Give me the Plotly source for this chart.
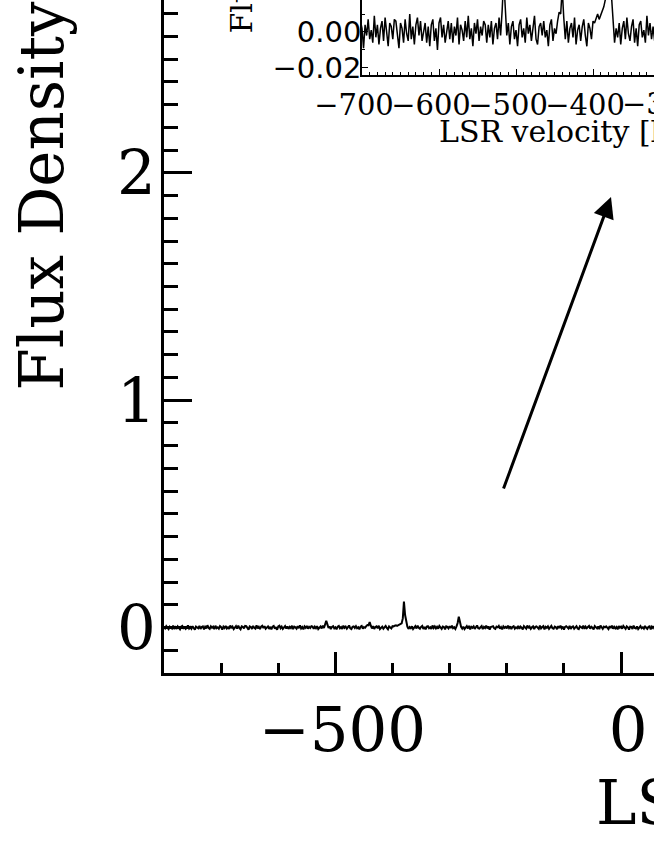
import plotly.graph_objects as go

W, H = 654, 846


def px(x):
    return x / W


def py(y):
    return 1 - y / H


# spectrum: first channel velocity and channel width (km/s)
velocity_start = -800.0
channel_width = 2.0

# flux per channel in mJy (noise + lines at -516, -440, -380, -284)
flux_mjy = [
    3, -4, 6, -2, -7, 4, 1, -5, 8, -3, 2, -6,
    5, -1, -8, 4, 7, -3, 0, -6, 3, 9, -4, 2,
    -5, 6, -2, -9, 4, 1, -3, 7, -6, 2, 5, -8,
    3, -4, 10, -2, -6, 5, -1, 4, -7, 8, -3, 1,
    -5, 6, 2, -9, 4, -2, 7, -4, 1, -6, 9, -3,
    4, -7, 2, 6, -5, 8, -2, -8, 5, 3, -4, 7,
    6, -3, -9, 5, 2, -6, 7, -1, -5, 10, -4, 3,
    -7, 4, 8, -2, 6, -5, 1, 5, -6, 3, -8, 4,
    7, -5, 2, -10, 5, 8, -3, 4, -6, 1, 6, -4,
    5, -6, 3, -2, 8, -7, 4, 1, -5, 6, -3, 9,
    -4, 2, -8, 5, -1, 7, -5, 3, -2, 6, 4, -6,
    4, -3, 6, -7, 2, 5, -4, 8, -2, 12, 30, 14,
    -2, 5, -7, 3, 6, -4, 1, -8, 4, 7, -3, 2,
    -6, 8, -1, 4, -5, 2, 9, -4, -7, 3, 5, -2,
    6, -3, 1, -8, 4, 7, -5, 2, -1, 6, 11, 10,
    24, 8, -4, 6, -6, 2, 5, -3, 8, -7, 1, 4,
    -5, 3, 7, -2, -8, 5, 2, -4, 6, 5, 8, 10,
    7, 9, 12, 14, 18, 40, 114, 55, 20, 4, -6, 2,
    -3, 5, -7, 2, 6, -4, 8, -1, -5, 3, 7, -6,
    2, -8, 4, 6, -3, 1, -6, 9, -2, 5, -4, 3,
    -5, 7, -1, -6, 4, 2, -8, 5, 3, -4, 6, -2,
    8, -3, 1, -6, 5, 20, 48, 22, 3, -5, 4, -7,
    2, 6, -4, 7, -8, 3, -1, 5, -6, 4, 9, -3,
    -5, 1, 6, -7, 3, -2, 8, -4, 5, -9, 2, 4,
    6, -3, -6, 4, 1, 7, -5, 2, -8, 5, -1, 3,
    -4, 8, -2, 5, -7, 3, 6, -5, 1, -3, 7, -6,
    4, -1, -8, 6, 2, -5, 9, -3, 4, -6, 1, 5,
    -7, 3, 5, -2, -6, 8, -4, 2, 6, -8, 3, -1,
    5, -6, 2, 7, -3, -5, 4, 1, -7, 6, -2, 8,
    -3, 4, -9, 3, 6, -1, -4, 7, -6, 2, 5, -5,
    1, 6, -4, -7, 5, 3, -2, 8, -6, 4, -3, 2,
    7, -5, 3, -1, -8, 6, 2, -4, 5, -7, 9, -2,
    -6, 4, 1, 5, -3, -7, 6, -2, 8, -5, 3, -4,
    2, -8, 6, -1, 4, -5, 7, -3, -6, 5, 1, -9,
    4, 3, -6, 8, -2, -4, 5, -7, 2, 6, -3, 1,
    -5, 7, -1, -6, 3, 5, -8, 4, -2, 6, -4, 2,
]
flux = [f / 1000 for f in flux_mjy]  # Jy

main_xrange = [-800, 57.7]
main_yrange = [-0.2, 2.76]
inset_xrange = [-700, -320.8]
inset_yrange = [-0.024, 0.0178]

serif = "DejaVu Serif"
sans = "DejaVu Sans"

fig = go.Figure()

# main spectrum
fig.add_trace(go.Scatter(
    x0=velocity_start, dx=channel_width, y=flux, mode="lines",
    line=dict(color="black", width=2), xaxis="x", yaxis="y",
))
# zoomed inset
fig.add_trace(go.Scatter(
    x0=velocity_start, dx=channel_width, y=flux, mode="lines",
    line=dict(color="black", width=1.5), xaxis="x2", yaxis="y2",
))

axis_common = dict(showgrid=False, zeroline=False, showline=True, automargin=False,
                   linecolor="black", tickcolor="black", ticks="inside")

fig.update_layout(
    template="none",
    width=W, height=H,
    margin=dict(l=0, r=0, t=0, b=0, pad=0),
    paper_bgcolor="white", plot_bgcolor="white",
    showlegend=False,
    xaxis=dict(
        **axis_common, domain=[px(164), 1], range=main_xrange,
        linewidth=3, ticklen=21, tickwidth=3, tick0=0, dtick=500, tickangle=0,
        minor=dict(ticks="inside", dtick=100, ticklen=10, tickwidth=3, tickcolor="black"),
        tickfont=dict(family=serif, size=61, color="black"),
        ticklabelstandoff=2, ticklabelshift=7,
    ),
    yaxis=dict(
        **axis_common, domain=[1 - 673 / H, 1], range=main_yrange,
        linewidth=3, ticklen=28, tickwidth=3, tick0=0, dtick=1,
        minor=dict(ticks="inside", dtick=0.1, ticklen=14, tickwidth=3, tickcolor="black"),
        tickfont=dict(family=serif, size=61, color="black"),
        ticklabelstandoff=-7,
    ),
    xaxis2=dict(
        **axis_common, domain=[px(362), 1], range=inset_xrange, anchor="y2",
        linewidth=1.5, ticklen=6, tickwidth=1, tick0=0, dtick=100, tickangle=0,
        minor=dict(ticks="inside", dtick=10, ticklen=3, tickwidth=1, tickcolor="black"),
        tickfont=dict(family=serif, size=29, color="black"),
        ticklabelstandoff=3, ticklabelshift=-8,
    ),
    yaxis2=dict(
        **axis_common, domain=[py(75), 1], range=inset_yrange, anchor="x2",
        linewidth=1.5, ticklen=6, tickwidth=1, tick0=0, dtick=0.02, tickformat=".2f",
        minor=dict(ticks="inside", dtick=0.01, ticklen=3, tickwidth=1, tickcolor="black"),
        tickfont=dict(family=sans, size=29, color="black"),
        ticklabelstandoff=-7,
    ),
)

fig.add_annotation(
    text="Flux Density [Jy]", textangle=-90, showarrow=False,
    xref="paper", yref="paper", x=px(41), y=py(393),
    xanchor="center", yanchor="bottom",
    font=dict(family=serif, size=61, color="black"),
)
fig.add_annotation(
    text="LSR velocity [km s<sup>−1</sup>]", showarrow=False,
    xref="paper", yref="paper", x=px(594), y=py(798),
    xanchor="left", yanchor="middle",
    font=dict(family=serif, size=61, color="black"),
)
fig.add_annotation(
    text="LSR velocity [km s<sup>−1</sup>]", showarrow=False,
    xref="paper", yref="paper", x=px(437), y=py(129),
    xanchor="left", yanchor="middle",
    font=dict(family=serif, size=30, color="black"),
)
fig.add_annotation(
    text="Flux Density [Jy]", textangle=-90, showarrow=False,
    xref="paper", yref="paper", x=px(241), y=py(35),
    xanchor="center", yanchor="bottom",
    font=dict(family=serif, size=30, color="black"),
)
# the inset's -300 label sits past the right edge of the crop
fig.add_annotation(
    text="−300", showarrow=False,
    xref="paper", yref="paper", x=px(662), y=py(104),
    xanchor="center", yanchor="middle",
    font=dict(family=serif, size=29, color="black"),
)
# arrow from the main spectrum up to the inset
fig.add_annotation(
    text="", showarrow=True, xref="paper", yref="paper",
    x=px(611), y=py(197), ax=-108, ay=293,
    arrowhead=2, arrowsize=1.4, arrowwidth=3, arrowcolor="black", standoff=0,
)

# drop the browser's default 8px body margin so the figure sits at the corner
fig.write_html("out.html", config={"displayModeBar": False},
               post_script="document.body.style.margin='0';")
